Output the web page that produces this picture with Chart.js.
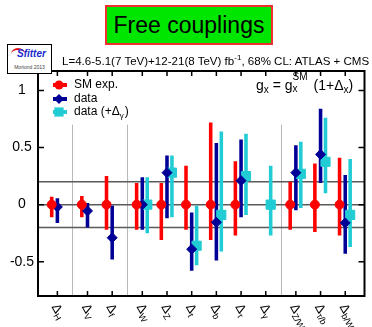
<!DOCTYPE html>
<html>
<head>
<meta charset="utf-8">
<script src="https://cdn.jsdelivr.net/npm/chart.js@4.4.0/dist/chart.umd.min.js"></script>
<style>
    body { margin: 0; background: #fff; }
    #wrap { position: relative; width: 372px; height: 327px; font-family: "Liberation Sans", Arial, sans-serif; }
    #chart { position: absolute; left: 0; top: 0; }
    #title {
        position: absolute; left: 105px; top: 5px; width: 164px; height: 36px;
        background: #00e600; border: 2px solid #f03030;
        font-size: 23px; line-height: 36px; text-align: center; color: #000;
    }
    #logo {
        position: absolute; left: 7px; top: 44px; width: 43px; height: 28px;
        background: #fff; border: 1px solid #000; overflow: hidden;
    }
    #logo .name { position: absolute; left: 9px; top: 3px; font-size: 10px; font-weight: bold; font-style: italic; color: #1a2ad0; }
    #logo .swoosh { position: absolute; left: 3px; top: 3px; width: 14px; height: 10px; border-top: 2px solid #e01010; border-radius: 50%; }
    #logo .event { position: absolute; left: 0; width: 43px; top: 19px; font-size: 5px; text-align: center; color: #444; }
    #header { position: absolute; left: 62px; top: 55px; font-size: 12px; white-space: nowrap; color: #000; }
    #header sup { font-size: 8px; vertical-align: 5px; line-height: 0; }
    #formula { position: absolute; left: 256px; top: 77px; font-size: 14px; white-space: nowrap; color: #000; }
    #formula sub { font-size: 10px; vertical-align: -3px; line-height: 0; }
    .ss { display: inline-block; position: relative; width: 21px; height: 10px; }
    .ss .up { position: absolute; left: 0; top: -9px; font-size: 10px; }
    .ss .dn { position: absolute; left: 0; top: 3px; font-size: 10px; }
</style>
</head>
<body>
<div id="wrap">
    <canvas id="chart" width="372" height="327"></canvas>
    <div id="title">Free couplings</div>
    <div id="logo"><div class="swoosh"></div><div class="name">Sfitter</div><div class="event">Moriond 2013</div></div>
    <div id="header">L=4.6-5.1(7 TeV)+12-21(8 TeV) fb<sup>-1</sup>, 68% CL: ATLAS + CMS</div>
    <div id="formula">g<sub>x</sub> = g<span class="ss"><span class="up">SM</span><span class="dn">x</span></span>(1+Δ<sub>x</sub>)</div>
</div>
<script>
// couplings (shown as Δ with subscript)
const categories = ['H', 'V', 'f', 'W', 'Z', 't', 'b', 'τ', 'γ', 'Z/W', 'τ/b', 'b/W'];
const groupOf = [0, 1, 1, 2, 2, 2, 2, 2, 2, 3, 3, 3];

// SM expectation: centred on 0
const smVal  = [0, 0, 0, 0, 0, 0, 0, 0, null, 0, 0, 0];
const smHi   = [0.07, 0.075, 0.25, 0.19, 0.19, 0.34, 0.72, 0.38, null, 0.20, 0.36, 0.41];
const smLo   = [-0.11, -0.11, -0.22, -0.22, -0.31, -0.22, -0.31, -0.27, null, -0.22, -0.24, -0.27];

// data
const dataVal = [-0.02, -0.055, -0.29, 0.0, 0.28, -0.39, -0.155, 0.21, null, 0.28, 0.44, -0.16];
const dataHi  = [0.055, 0.015, -0.01, 0.24, 0.43, -0.07, 0.54, 0.57, null, 0.52, 0.84, 0.26];
const dataLo  = [-0.16, -0.20, -0.48, -0.22, -0.12, -0.58, -0.49, -0.11, null, -0.05, 0.19, -0.43];

// data (+Δγ)
const gamVal = [null, null, null, 0.0, 0.28, -0.36, -0.09, 0.25, 0.0, 0.27, 0.375, -0.09];
const gamHi  = [null, null, null, 0.24, 0.43, -0.01, 0.64, 0.62, 0.34, 0.55, 0.76, 0.40];
const gamLo  = [null, null, null, -0.25, -0.11, -0.53, -0.41, -0.09, -0.27, -0.03, 0.10, -0.37];

const yTicks = [-0.5, 0, 0.5, 1];
const refLines = [-0.2, 0, 0.2];

const RED = '#ff0000', BLUE = '#000096', CYAN = '#22ccd4';
const GAP = 0.22;
function pos(i) { return i + GAP * groupOf[i]; }

function points(vals, off) {
    return vals.map((v, i) => v === null ? null : { x: pos(i) + off, y: v }).filter(p => p);
}
function ranges(lo, hi, off) {
    return lo.map((v, i) => v === null ? null : { x: pos(i) + off, y: [v, hi[i]] }).filter(p => p);
}

const OFF_SM = -0.23, OFF_DATA = 0, OFF_GAM = 0.2;

function barSet(data, color) {
    return {
        type: 'bar', data: data, backgroundColor: color, borderWidth: 0,
        grouped: false, maxBarThickness: 4.5, order: 2
    };
}
function markSet(data, color, style, r) {
    return {
        type: 'scatter', data: data, backgroundColor: color, borderColor: color, borderWidth: 1,
        pointStyle: style, pointRadius: r, pointHoverRadius: r, order: 1
    };
}

// separators between groups of couplings
const separators = [];
for (let i = 1; i < categories.length; i++) {
    if (groupOf[i] !== groupOf[i - 1]) separators.push((pos(i) + pos(i - 1)) / 2);
}

function drawMarker(ctx, style, x, y, r, color) {
    ctx.fillStyle = color;
    ctx.beginPath();
    if (style === 'circle') ctx.arc(x, y, r, 0, Math.PI * 2);
    else if (style === 'rectRot') { ctx.moveTo(x - r, y); ctx.lineTo(x, y - r); ctx.lineTo(x + r, y); ctx.lineTo(x, y + r); ctx.closePath(); }
    else { const s = r * Math.SQRT1_2; ctx.rect(x - s, y - s, 2 * s, 2 * s); }
    ctx.fill();
}

const decor = {
    id: 'decor',
    beforeDatasetsDraw(chart) {
        const { ctx, chartArea: a, scales: { x, y } } = chart;
        ctx.save();
        ctx.strokeStyle = '#b8b8b8';
        ctx.lineWidth = 1;
        separators.forEach(v => {
            const px = Math.round(x.getPixelForValue(v)) + 0.5;
            ctx.beginPath(); ctx.moveTo(px, y.getPixelForValue(0.7)); ctx.lineTo(px, a.bottom); ctx.stroke();
        });
        ctx.strokeStyle = '#5a5a5a';
        ctx.lineWidth = 1.5;
        refLines.forEach(v => {
            const py = y.getPixelForValue(v);
            ctx.beginPath(); ctx.moveTo(a.left, py); ctx.lineTo(a.right, py); ctx.stroke();
        });
        ctx.restore();
    },
    afterDatasetsDraw(chart) {
        const { ctx, chartArea: a, scales: { x, y } } = chart;
        ctx.save();
        // frame
        ctx.strokeStyle = '#000';
        ctx.lineWidth = 2;
        ctx.strokeRect(a.left, a.top, a.right - a.left, a.bottom - a.top);
        // ticks
        ctx.lineWidth = 1.5;
        categories.forEach((c, i) => {
            const px = x.getPixelForValue(pos(i));
            ctx.beginPath();
            ctx.moveTo(px, a.bottom); ctx.lineTo(px, a.bottom - 5);
            ctx.moveTo(px, a.top); ctx.lineTo(px, a.top + 5);
            ctx.stroke();
        });
        yTicks.forEach(v => {
            const py = y.getPixelForValue(v);
            ctx.beginPath();
            ctx.moveTo(a.left, py); ctx.lineTo(a.left + 6, py);
            ctx.moveTo(a.right, py); ctx.lineTo(a.right - 6, py);
            ctx.stroke();
        });
        // x labels, rotated
        ctx.fillStyle = '#000';
        ctx.textBaseline = 'middle';
        ctx.textAlign = 'left';
        categories.forEach((c, i) => {
            const px = x.getPixelForValue(pos(i));
            ctx.save();
            ctx.translate(px - 3, a.bottom + 9);
            ctx.rotate(60 * Math.PI / 180);
            ctx.font = '13px "Liberation Sans", Arial, sans-serif';
            ctx.fillText('Δ', 0, 0);
            const w = ctx.measureText('Δ').width;
            ctx.font = '9px "Liberation Sans", Arial, sans-serif';
            ctx.fillText(c, w, 4);
            ctx.restore();
        });
        // legend
        const rows = [
            { label: 'SM exp.', color: RED, style: 'circle', r: 4.5, y: 85 },
            { label: 'data', color: BLUE, style: 'rectRot', r: 5, y: 99 },
            { label: 'data (+Δ', sub: 'γ', color: CYAN, style: 'rect', r: 6.5, y: 112 }
        ];
        rows.forEach(rw => {
            ctx.strokeStyle = rw.color;
            ctx.lineWidth = 4;
            ctx.beginPath(); ctx.moveTo(53, rw.y); ctx.lineTo(67, rw.y); ctx.stroke();
            drawMarker(ctx, rw.style, 59, rw.y, rw.r, rw.color);
            ctx.fillStyle = '#000';
            ctx.font = '12px "Liberation Sans", Arial, sans-serif';
            ctx.fillText(rw.label, 74, rw.y);
            if (rw.sub) {
                let w = ctx.measureText(rw.label).width;
                ctx.font = '8px "Liberation Sans", Arial, sans-serif';
                ctx.fillText(rw.sub, 74 + w, rw.y + 4);
                w += ctx.measureText(rw.sub).width;
                ctx.font = '12px "Liberation Sans", Arial, sans-serif';
                ctx.fillText(')', 74 + w + 1, rw.y);
            }
        });
        ctx.restore();
    }
};

new Chart(document.getElementById('chart'), {
    type: 'bar',
    data: {
        datasets: [
            barSet(ranges(smLo, smHi, OFF_SM), RED),
            barSet(ranges(dataLo, dataHi, OFF_DATA), BLUE),
            barSet(ranges(gamLo, gamHi, OFF_GAM), CYAN),
            markSet(points(smVal, OFF_SM), RED, 'circle', 4.5),
            markSet(points(dataVal, OFF_DATA), BLUE, 'rectRot', 5),
            markSet(points(gamVal, OFF_GAM), CYAN, 'rect', 6.5)
        ]
    },
    options: {
        responsive: false,
        animation: false,
        layout: { padding: { top: 71, right: 2, bottom: 31, left: 0 } },
        plugins: { legend: { display: false }, tooltip: { enabled: false } },
        scales: {
            x: {
                type: 'linear', display: false, offset: false,
                min: -0.785, max: 12.44
            },
            y: {
                min: -0.8, max: 1.17,
                afterBuildTicks: s => { s.ticks = yTicks.map(v => ({ value: v })); },
                afterFit: s => { s.width = 38; },
                grid: { display: false, drawTicks: false },
                border: { display: false },
                ticks: {
                    color: '#000', padding: 4, crossAlign: 'center',
                    font: { family: '"Liberation Sans", Arial, sans-serif', size: 14 },
                    callback: v => String(v)
                }
            }
        }
    },
    plugins: [decor]
});

// fit the header line to the frame width
const hdr = document.getElementById('header');
hdr.style.fontSize = (12 * 307 / hdr.offsetWidth).toFixed(2) + 'px';
</script>
</body>
</html>
